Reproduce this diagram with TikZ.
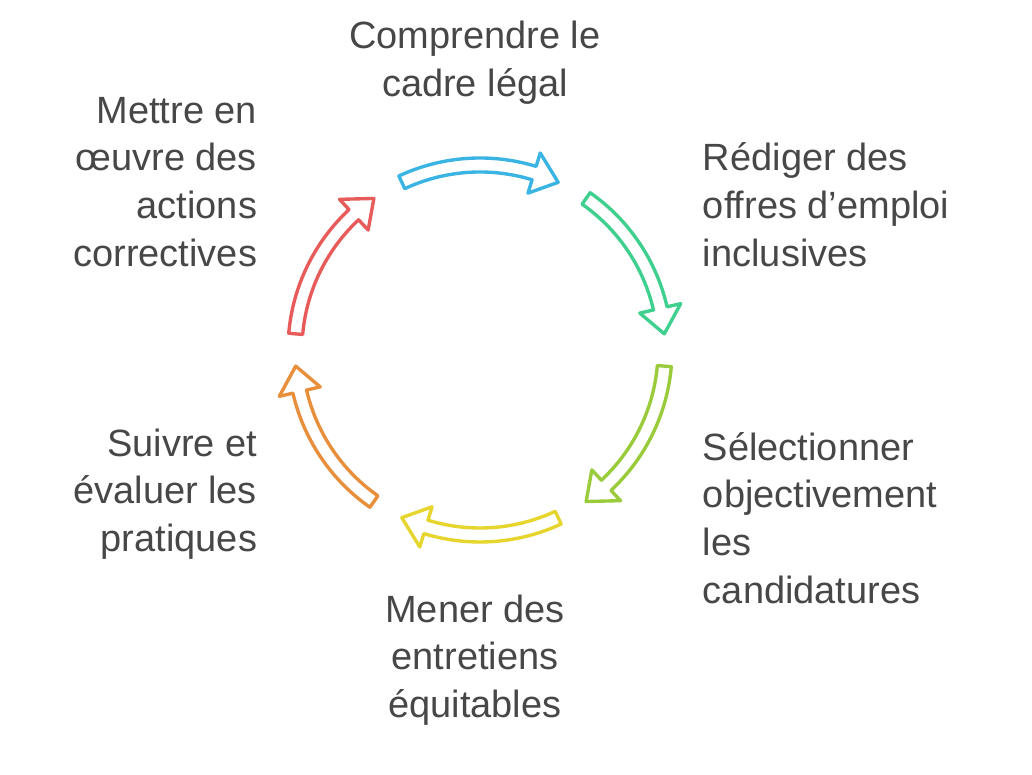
\documentclass[tikz,border=0pt]{standalone}
\usepackage{fontspec}
\setmainfont{Liberation Sans}
\definecolor{txt}{HTML}{474747}
\definecolor{cblue}{HTML}{3AB4E2}
\definecolor{cgreen}{HTML}{3FCF8E}
\definecolor{clime}{HTML}{9ACB3A}
\definecolor{cyellow}{HTML}{E6D52C}
\definecolor{corange}{HTML}{E88F3C}
\definecolor{cred}{HTML}{E85B5B}

% hollow curved arrow: colour, start angle, end angle (clockwise)
\newcommand{\cycarrow}[3]{%
\draw [#1, line width=2.4pt, fill=white, line join=round]
 (#2:192) arc (#2:#3+8:192) -- (#3+8:206) -- (#3:185) -- (#3+8:164)
 -- (#3+8:178) arc (#3+8:#2:178) -- cycle;
}

\begin{document}
\begin{tikzpicture}[x=0.025cm, y=0.025cm,
  steptext/.style={text=txt, font=\fontsize{27}{34}\selectfont}]

\useasboundingbox (0,0) rectangle (1032,775);

\begin{scope}[shift={(480,425)}]
\cycarrow{cblue}{115}{65}
\cycarrow{cgreen}{55}{5}
\cycarrow{clime}{-5}{-55}
\cycarrow{cyellow}{-65}{-115}
\cycarrow{corange}{-125}{-175}
\cycarrow{cred}{175}{125}
\end{scope}

\node [steptext, align=center] (cadre) at (475,712) {Comprendre le\\cadre légal};
\node [steptext, align=left, anchor=west] (offres) at (698,570) {Rédiger des\\offres d{\char39}emploi\\inclusives};
\node [steptext, align=left, anchor=west] (select) at (698,257) {Sélectionner\\objectivement\\les\\candidatures};
\node [steptext, align=center] (entret) at (475,115) {Mener des\\entretiens\\équitables};
\node [steptext, align=right, anchor=east] (suivre) at (262,281) {Suivre et\\évaluer les\\pratiques};
\node [steptext, align=right, anchor=east] (correct) at (262,593) {Mettre en\\œuvre des\\actions\\correctives};

\end{tikzpicture}
\end{document}
